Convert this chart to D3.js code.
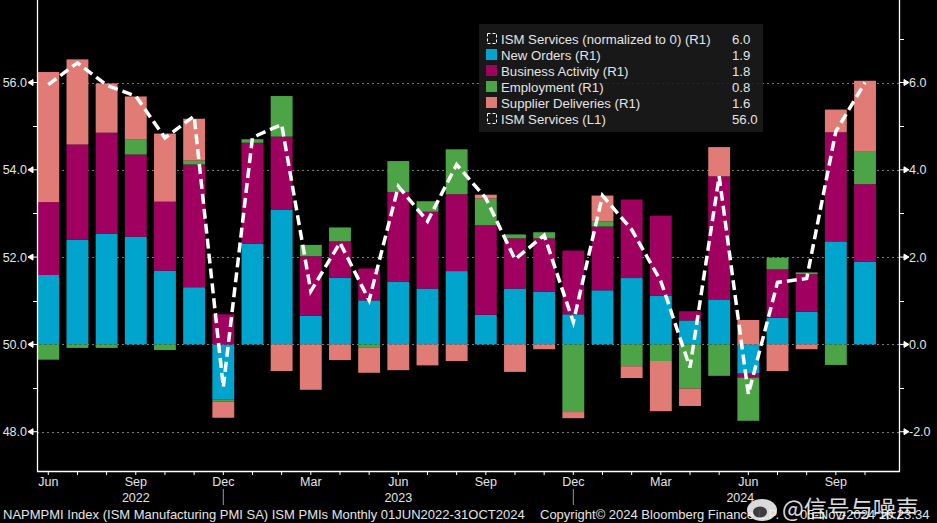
<!DOCTYPE html>
<html><head><meta charset="utf-8">
<script src="https://cdn.jsdelivr.net/npm/d3@7"></script>
<style>
html,body{margin:0;padding:0;background:#000;}
svg{display:block;}
text{font-family:"Liberation Sans",Arial,sans-serif;}
</style></head>
<body>
<svg id="chart" width="937" height="523"></svg>
<script>
// ---------- data ----------
const months = ["2022-06","2022-07","2022-08","2022-09","2022-10","2022-11","2022-12",
  "2023-01","2023-02","2023-03","2023-04","2023-05","2023-06","2023-07","2023-08","2023-09","2023-10","2023-11","2023-12",
  "2024-01","2024-02","2024-03","2024-04","2024-05","2024-06","2024-07","2024-08","2024-09","2024-10"];
const newOrders = [1.59,2.40,2.54,2.47,1.69,1.31,-1.26,2.31,3.09,0.66,1.53,1.01,1.43,1.28,1.68,0.68,1.28,1.21,0.69,1.24,1.52,1.11,0.55,1.03,-0.67,0.61,0.75,2.36,1.89];
const businessActivity = [1.67,2.18,2.31,1.88,1.58,2.81,0.69,2.31,1.67,1.36,0.83,0.73,2.06,1.76,1.76,2.05,1.15,1.22,1.46,1.46,1.80,1.84,0.21,2.82,-0.09,1.11,0.86,2.50,1.78];
const employment = [-0.35,-0.08,-0.08,0.34,-0.13,0.09,-0.05,0.08,0.93,0.26,0.32,-0.08,0.71,0.24,1.03,0.61,0.09,0.14,-1.55,0.12,-0.50,-0.38,-1.01,-0.72,-0.99,0.27,0.04,-0.47,0.76];
const supplierDeliveries = [2.98,1.95,1.13,0.99,1.56,0.96,-0.37,0,-0.61,-1.04,-0.36,-0.57,-0.59,-0.48,-0.38,0.09,-0.63,-0.11,-0.14,0.59,-0.27,-1.15,-0.40,0.67,0.56,-0.61,-0.11,0.52,1.61];
const ismServicesNorm = [5.95,6.45,5.94,5.69,4.73,5.23,-0.98,4.74,5.04,1.22,2.33,1.01,3.62,2.82,4.12,3.35,1.95,2.50,0.51,3.41,2.63,1.45,-0.53,3.85,-1.14,1.42,1.51,4.88,6.00];

const seriesKeys = ["newOrders","businessActivity","employment","supplierDeliveries"];
const seriesColors = ["#00a4cc","#a00060","#4ca447","#e07b76"];
const legendLabels = ["ISM Services (normalized to 0) (R1)","New Orders (R1)","Business Activity (R1)","Employment (R1)","Supplier Deliveries (R1)","ISM Services (L1)"];
const legendValues = ["6.0","1.9","1.8","0.8","1.6","56.0"];
const leftTicks = [48,50,52,54,56];
const rightTicks = [-2,0,2,4,6];
const monthLabels = {"2022-06":"Jun","2022-09":"Sep","2022-12":"Dec","2023-03":"Mar","2023-06":"Jun","2023-09":"Sep","2023-12":"Dec","2024-03":"Mar","2024-06":"Jun","2024-09":"Sep"};
const yearLabels = [["2022-09","2022"],["2023-06","2023"],["2024-06","2024"]];
const yearSeparators = ["2022-12","2023-12"];
const footerLeft = "NAPMPMI Index (ISM Manufacturing PMI SA) ISM PMIs  Monthly 01JUN2022-31OCT2024";
const footerMid = "Copyright\u00A9 2024 Bloomberg Finance L.P.";
const footerRight = "05-Nov-2024 10:23:34";

// ---------- layout ----------
const svg = d3.select("#chart");
const plotL = 37, plotR = 899, plotT = 0, plotB = 471;
const txt = "#e4e4e4";

const x = d3.scaleBand().domain(months).range([33.7, 879.6]).paddingInner(0.25).paddingOuter(0.125);
const yR = d3.scaleLinear().domain([-2.9, 7.89]).range([plotB, plotT]);
const yL = d3.scaleLinear().domain([47.1, 57.89]).range([plotB, plotT]);

// gridlines
svg.append("g").selectAll("line").data(rightTicks).join("line")
  .attr("x1", plotL).attr("x2", plotR)
  .attr("y1", d => Math.round(yR(d)) + 0.5).attr("y2", d => Math.round(yR(d)) + 0.5)
  .attr("stroke", "#7a7a7a").attr("stroke-width", 1).attr("stroke-dasharray", "2,3");

// stacked bars
const table = months.map((m, i) => ({month: m, newOrders: newOrders[i], businessActivity: businessActivity[i], employment: employment[i], supplierDeliveries: supplierDeliveries[i]}));
const stacked = d3.stack().keys(seriesKeys).offset(d3.stackOffsetDiverging)(table);
svg.append("g").selectAll("g").data(stacked).join("g")
  .attr("fill", (d, i) => seriesColors[i])
  .selectAll("rect").data(d => d).join("rect")
  .attr("x", d => x(d.data.month))
  .attr("width", x.bandwidth())
  .attr("y", d => yR(Math.max(d[0], d[1])))
  .attr("height", d => Math.abs(yR(d[0]) - yR(d[1])));

// line
const line = d3.line().x((d, i) => x(months[i]) + x.bandwidth() / 2).y(d => yR(d));
svg.append("path").datum(ismServicesNorm)
  .attr("d", line).attr("fill", "none")
  .attr("stroke", "#ffffff").attr("stroke-width", 3.5)
  .attr("stroke-dasharray", "10,5");

// axes lines
svg.append("line").attr("x1", plotL + 0.5).attr("x2", plotL + 0.5).attr("y1", 0).attr("y2", plotB + 0.5).attr("stroke", "#fff").attr("stroke-width", 1.3);
svg.append("line").attr("x1", plotR + 0.5).attr("x2", plotR + 0.5).attr("y1", 0).attr("y2", plotB + 0.5).attr("stroke", "#fff").attr("stroke-width", 1.3);
svg.append("line").attr("x1", plotL).attr("x2", plotR + 1).attr("y1", plotB + 0.5).attr("y2", plotB + 0.5).attr("stroke", "#fff").attr("stroke-width", 1.3);

// left axis ticks
const gL = svg.append("g");
gL.selectAll("line.minor").data(d3.range(49, 57, 2)).join("line")
  .attr("x1", plotL - 4).attr("x2", plotL)
  .attr("y1", d => Math.round(yL(d)) + 0.5).attr("y2", d => Math.round(yL(d)) + 0.5)
  .attr("stroke", "#fff");
gL.selectAll("path").data(leftTicks).join("path")
  .attr("d", d => { const yy = yL(d); return `M${plotL - 9},${yy} L${plotL - 4},${yy - 3} L${plotL - 4},${yy + 3} Z M${plotL - 4},${yy} L${plotL},${yy}`; })
  .attr("fill", "#fff").attr("stroke", "#fff").attr("stroke-width", 1);
gL.selectAll("text").data(leftTicks).join("text")
  .attr("x", plotL - 10).attr("y", d => yL(d) + 4.5)
  .attr("text-anchor", "end").attr("fill", txt).attr("font-size", 12.5)
  .text(d => d.toFixed(1));

// right axis ticks
const gR = svg.append("g");
gR.selectAll("line.minor").data(d3.range(-1, 8, 2)).join("line")
  .attr("x1", plotR).attr("x2", plotR + 5)
  .attr("y1", d => Math.round(yR(d)) + 0.5).attr("y2", d => Math.round(yR(d)) + 0.5)
  .attr("stroke", "#fff");
gR.selectAll("path").data(rightTicks).join("path")
  .attr("d", d => { const yy = yR(d); return `M${plotR},${yy} L${plotR + 5},${yy} M${plotR + 10},${yy} L${plotR + 5},${yy - 3} L${plotR + 5},${yy + 3} Z`; })
  .attr("fill", "#fff").attr("stroke", "#fff").attr("stroke-width", 1);
gR.selectAll("text").data(rightTicks).join("text")
  .attr("x", plotR + 10).attr("y", d => yR(d) + 4.5)
  .attr("text-anchor", "start").attr("fill", txt).attr("font-size", 12.5)
  .text(d => (d < 0 ? "-" : "") + Math.abs(d).toFixed(1));

// x axis ticks & labels
const gX = svg.append("g");
gX.selectAll("line").data(months).join("line")
  .attr("x1", d => x(d) + x.bandwidth() / 2).attr("x2", d => x(d) + x.bandwidth() / 2)
  .attr("y1", plotB).attr("y2", plotB + 4).attr("stroke", "#fff");
gX.selectAll("text").data(months.filter(m => monthLabels[m])).join("text")
  .attr("x", d => x(d) + x.bandwidth() / 2).attr("y", 486)
  .attr("text-anchor", "middle").attr("fill", txt).attr("font-size", 12.5)
  .text(d => monthLabels[d]);
gX.selectAll("text.yr").data(yearLabels).join("text").attr("class", "yr")
  .attr("x", d => x(d[0]) + x.bandwidth() / 2 - (d[1] === "2024" ? 8 : 0)).attr("y", 502)
  .attr("text-anchor", "middle").attr("fill", txt).attr("font-size", 12.5)
  .text(d => d[1]);
gX.selectAll("line.sep").data(yearSeparators).join("line").attr("class", "sep")
  .attr("x1", d => x(d) + x.bandwidth() / 2).attr("x2", d => x(d) + x.bandwidth() / 2)
  .attr("y1", 489).attr("y2", 505).attr("stroke", "#999");

// legend
const lg = svg.append("g");
lg.append("rect").attr("x", 479).attr("y", 24).attr("width", 284).attr("height", 108)
  .attr("fill", "#1b1b1b").attr("fill-opacity", 0.88);
const rowY = i => 39 + i * 16;
legendLabels.forEach((lab, i) => {
  const yy = rowY(i);
  if (i === 0 || i === 5) {
    lg.append("rect").attr("x", 487.5).attr("y", yy - 5.5).attr("width", 9).attr("height", 10)
      .attr("fill", "none").attr("stroke", "#fff").attr("stroke-width", 1).attr("stroke-dasharray", "3,2");
  } else {
    lg.append("rect").attr("x", 486).attr("y", yy - 6).attr("width", 11).attr("height", 11)
      .attr("fill", seriesColors[i - 1]);
  }
  lg.append("text").attr("x", 501).attr("y", yy + 5).attr("fill", txt).attr("font-size", 13.2).text(lab);
  lg.append("text").attr("x", 732).attr("y", yy + 5).attr("fill", txt).attr("font-size", 13.2).text(legendValues[i]);
});

// footer
svg.append("text").attr("x", 3).attr("y", 519).attr("fill", txt).attr("font-size", 13).text(footerLeft);
svg.append("text").attr("x", 540).attr("y", 519).attr("fill", txt).attr("font-size", 13).text(footerMid);
svg.append("text").attr("x", 800).attr("y", 519).attr("fill", txt).attr("font-size", 13).text(footerRight);

// watermark
const wm = svg.append("g").attr("opacity", 0.9);
wm.append("ellipse").attr("cx", 762).attr("cy", 510).attr("rx", 15).attr("ry", 11).attr("fill", "#f2f2f2");
wm.append("ellipse").attr("cx", 760).attr("cy", 512).attr("rx", 7).attr("ry", 5.5).attr("fill", "#444");
wm.append("text").attr("x", 782).attr("y", 517).attr("fill", "#f2f2f2")
  .attr("font-size", 23).style("font-family", "'Noto Sans CJK SC', sans-serif").text("@信号与噪声");
</script>
</body></html>
